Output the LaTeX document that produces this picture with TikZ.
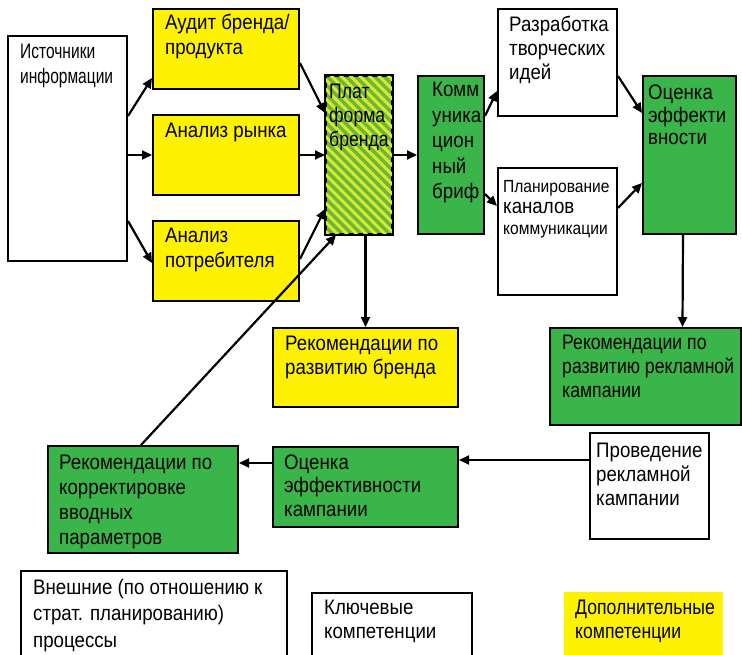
\documentclass[tikz,border=0pt]{standalone}
\usepackage{fontspec}
\setmainfont{Liberation Sans}[FakeStretch=0.89]
\newfontfamily\narrowfont{Liberation Sans}[FakeStretch=0.74]
\newfontfamily\midfont{Liberation Sans}[FakeStretch=0.84]
\usetikzlibrary{arrows.meta,calc}
\definecolor{yel}{RGB}{255,242,0}
\definecolor{grn}{RGB}{57,181,74}
\definecolor{stripeA}{RGB}{108,182,56}
\definecolor{stripeB}{RGB}{214,234,48}
\newcommand\tx[1]{\parbox[t]{300pt}{\raggedright #1}}
\newcommand\smallsz{\fontsize{17.5}{21}\selectfont}
\begin{document}
\begin{tikzpicture}[x=1pt,y=-1pt,
  box/.style={draw, line width=2pt, inner sep=0pt, anchor=north west},
  txt/.style={anchor=base west, inner sep=0pt, font=\fontsize{21}{24.5}\selectfont},
  arr/.style={line width=2.2pt, -{Triangle[length=10pt,width=9pt]}}]
\clip (0,0) rectangle (742,655);
\fill[white] (0,0) rectangle (742,655);

% boxes
\node[box, minimum width=119pt, minimum height=225pt] (info) at (7,35) {};
\node[box, fill=yel, minimum width=146pt, minimum height=80pt] (audit) at (152,8) {};
\node[box, fill=yel, minimum width=146pt, minimum height=80pt] (market) at (152,114) {};
\node[box, fill=yel, minimum width=146pt, minimum height=80pt] (consumer) at (152,220) {};
\node[box, fill=stripeA, minimum width=66pt, minimum height=158pt] (platform) at (325,75) {};
\begin{scope}
  \clip (platform.north west) rectangle (platform.south east);
  \foreach \i in {-20,...,20}
    \draw[stripeB, line width=3pt] (325+\i*9.5,60) -- ++(200,200);
\end{scope}
\draw[line width=2pt] (platform.north west) rectangle (platform.south east);
\node[box, fill=grn, minimum width=66pt, minimum height=158pt] (brief) at (417,75) {};
\node[box, minimum width=119pt, minimum height=107pt] (ideas) at (497,8) {};
\node[box, minimum width=119pt, minimum height=127pt] (channels) at (497,167) {};
\node[box, fill=grn, minimum width=93pt, minimum height=158pt] (effect) at (642,75) {};
\node[box, fill=yel, minimum width=185pt, minimum height=79pt] (recbrand) at (272,327) {};
\node[box, fill=grn, minimum width=191pt, minimum height=97pt] (recad) at (549,327) {};
\node[box, minimum width=119pt, minimum height=106pt] (conduct) at (589,432) {};
\node[box, fill=grn, minimum width=185pt, minimum height=80pt] (evalcamp) at (272,446) {};
\node[box, fill=grn, minimum width=190pt, minimum height=107pt] (reccorr) at (47,445) {};
\node[box, line width=1.6pt, minimum width=266pt, minimum height=100pt] (extern) at (20,570) {};
\node[box, line width=1.6pt, minimum width=160pt, minimum height=80pt] (keycomp) at (311,592) {};
\node[box, draw=none, fill=yel, minimum width=159pt, minimum height=70pt] (addcomp) at (563,591) {};

% texts
\node[txt, font=\fontsize{21}{25}\narrowfont] (info-t) at (20,59) {\tx{Источники\\информации}};
\node[txt] (audit-t) at (165,30) {\tx{Аудит бренда/\\продукта}};
\node[txt] (market-t) at (165,138) {\tx{Анализ рынка}};
\node[txt] (consumer-t) at (165,243) {\tx{Анализ\\потребителя}};
\node[txt, font=\fontsize{21}{24}\midfont] (platform-t) at (329,99) {\tx{Плат\\форма\\бренда}};
\node[txt, font=\fontsize{21}{25.5}\selectfont] (brief-t) at (432,97) {\tx{Комм\\уника\\цион\\ный\\бриф}};
\node[txt, font=\fontsize{21}{24}\selectfont] (ideas-t) at (509,32) {\tx{Разработка\\творческих\\идей}};
\node[txt, font=\fontsize{21}{21}\selectfont] (channels-t) at (503,193) {\tx{{\smallsz Планирование}\\каналов\\{\smallsz коммуникации}}};
\node[txt, font=\fontsize{21}{22.5}\selectfont] (effect-t) at (648,100) {\tx{Оценка\\эффекти\\вности}};
\node[txt, font=\fontsize{21}{24}\selectfont] (recbrand-t) at (285,350) {\tx{Рекомендации по\\развитию бренда}};
\node[txt, font=\fontsize{21}{24}\midfont] (recad-t) at (562,349) {\tx{Рекомендации по\\развитию рекламной\\кампании}};
\node[txt, font=\fontsize{21}{24}\selectfont] (conduct-t) at (596,457) {\tx{Проведение\\рекламной\\кампании}};
\node[txt, font=\fontsize{21}{23.5}\selectfont] (evalcamp-t) at (284,469) {\tx{Оценка\\эффективности\\кампании}};
\node[txt, font=\fontsize{21}{25.3}\selectfont] (reccorr-t) at (59,469) {\tx{Рекомендации по\\корректировке\\вводных\\параметров}};
\node[txt, font=\fontsize{21}{26.5}\selectfont] (extern-t) at (33,594) {\tx{Внешние (по отношению к\\страт. планированию)\\процессы}};
\node[txt, font=\fontsize{21}{24}\selectfont] (keycomp-t) at (324,614) {\tx{Ключевые\\компетенции}};
\node[txt, font=\fontsize{21}{24}\midfont] (addcomp-t) at (575,614) {\tx{Дополнительные\\компетенции}};

% connector anchor points
\coordinate (cOut) at ([yshift=26pt]conduct.west);
\coordinate (eOut) at ([yshift=24pt]evalcamp.west);

% connectors
\draw[arr] ([yshift=32.5pt]info.east) -- ([yshift=-29pt]audit.west);
\draw[arr] (market.west -| info.east) -- (market.west);
\draw[arr] ([yshift=-72.5pt]info.east) -- ([yshift=-2pt]consumer.west);
\draw[arr] ([yshift=-14pt]audit.east) -- ([yshift=42pt]platform.west);
\draw[arr] (market.east) -- (platform.west);
\draw[arr] ([yshift=2pt]consumer.east) -- ([yshift=-54pt]platform.west);
\draw[arr] ([xshift=-2pt]reccorr.north) -- ([xshift=-23pt]platform.south);
\draw[arr] (platform.south -| recbrand.north) -- (recbrand.north);
\draw[arr] (platform.east) -- (brief.west);
\draw[arr] ([yshift=39pt]brief.east) -- ([yshift=-28.5pt]ideas.west);
\draw[arr] ([yshift=-39pt]brief.east) -- ([yshift=25.5pt]channels.west);
\draw[arr] ([yshift=-13.5pt]ideas.east) -- ([yshift=42pt]effect.west);
\draw[arr] ([yshift=23.5pt]channels.east) -- ([yshift=-28pt]effect.west);
\draw[arr] ([xshift=-6.5pt]effect.south) -- ([xshift=37pt]recad.north);
\draw[arr] (cOut) -- (evalcamp.east |- cOut);
\draw[arr] (eOut) -- (reccorr.east |- eOut);
\end{tikzpicture}
\end{document}
